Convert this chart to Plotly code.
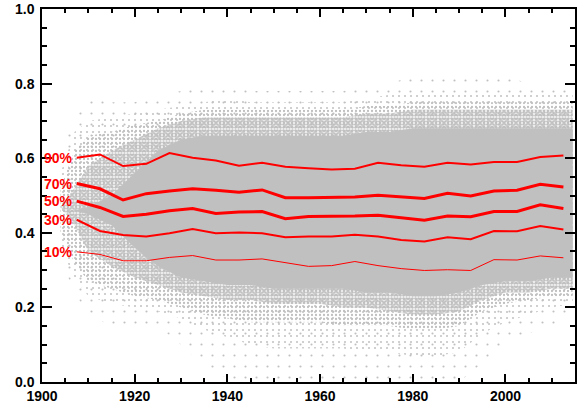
import plotly.graph_objects as go

# ---- percentile curves (5-year bins) ----
bin_years = [1907.5, 1912.5, 1917.5, 1922.5, 1927.5, 1932.5, 1937.5, 1942.5, 1947.5, 1952.5, 1957.5,
             1962.5, 1967.5, 1972.5, 1977.5, 1982.5, 1987.5, 1992.5, 1997.5, 2002.5, 2007.5, 2012.5]
p90 = [0.601, 0.610, 0.579, 0.585, 0.614, 0.601, 0.594, 0.580, 0.588, 0.577, 0.573,
       0.570, 0.572, 0.588, 0.581, 0.577, 0.588, 0.583, 0.590, 0.590, 0.603, 0.607]
p70 = [0.532, 0.518, 0.488, 0.505, 0.512, 0.518, 0.514, 0.509, 0.515, 0.494, 0.494,
       0.494, 0.496, 0.501, 0.497, 0.492, 0.506, 0.499, 0.512, 0.514, 0.530, 0.523]
p50 = [0.485, 0.468, 0.444, 0.450, 0.459, 0.465, 0.452, 0.456, 0.457, 0.438, 0.444,
       0.444, 0.445, 0.447, 0.441, 0.434, 0.445, 0.443, 0.457, 0.457, 0.475, 0.465]
p30 = [0.435, 0.405, 0.394, 0.390, 0.399, 0.410, 0.399, 0.401, 0.399, 0.388, 0.390,
       0.390, 0.395, 0.390, 0.381, 0.377, 0.388, 0.383, 0.405, 0.404, 0.418, 0.409]
p10 = [0.349, 0.342, 0.325, 0.325, 0.334, 0.339, 0.327, 0.327, 0.330, 0.320, 0.310,
       0.312, 0.323, 0.312, 0.304, 0.299, 0.301, 0.299, 0.328, 0.327, 0.338, 0.333]
pct_labels = ["90%", "70%", "50%", "30%", "10%"]

# ---- density envelopes of the grey point cloud ----
cloud_years = [1904, 1907, 1910, 1915, 1920, 1925, 1930, 1935, 1940, 1945, 1950, 1955,
               1960, 1965, 1970, 1975, 1980, 1985, 1990, 1995, 2000, 2005, 2010, 2014.5]
vsparse_hi = [0.60, 0.72, 0.76, 0.75, 0.75, 0.77, 0.78, 0.79, 0.80, 0.78, 0.78, 0.78,
              0.78, 0.78, 0.79, 0.80, 0.82, 0.82, 0.82, 0.83, 0.82, 0.80, 0.80, 0.80]
vsparse_lo = [0.33, 0.24, 0.18, 0.15, 0.15, 0.15, 0.10, 0.04, 0.01, 0.0, 0.0, 0.0,
              0.0, 0.0, 0.0, 0.0, 0.0, 0.0, 0.0, 0.05, 0.10, 0.13, 0.15, 0.18]
sparse_hi = [0.56, 0.67, 0.70, 0.71, 0.72, 0.73, 0.74, 0.75, 0.76, 0.75, 0.75, 0.75,
             0.75, 0.75, 0.76, 0.77, 0.78, 0.78, 0.78, 0.78, 0.78, 0.77, 0.77, 0.77]
sparse_lo = [0.36, 0.28, 0.23, 0.21, 0.20, 0.19, 0.17, 0.14, 0.12, 0.10, 0.09, 0.09,
             0.09, 0.09, 0.08, 0.08, 0.07, 0.07, 0.08, 0.13, 0.16, 0.18, 0.20, 0.21]
medium_hi = [0.52, 0.62, 0.66, 0.67, 0.69, 0.70, 0.72, 0.73, 0.73, 0.73, 0.73, 0.73,
             0.73, 0.73, 0.74, 0.74, 0.75, 0.75, 0.75, 0.75, 0.75, 0.75, 0.75, 0.75]
medium_lo = [0.40, 0.32, 0.27, 0.25, 0.23, 0.22, 0.20, 0.18, 0.17, 0.16, 0.16, 0.16,
             0.16, 0.15, 0.15, 0.15, 0.14, 0.14, 0.15, 0.19, 0.21, 0.22, 0.23, 0.23]
dense_hi = [0.47, 0.52, 0.58, 0.62, 0.65, 0.68, 0.70, 0.71, 0.71, 0.71, 0.71, 0.71,
            0.71, 0.71, 0.72, 0.72, 0.73, 0.73, 0.73, 0.73, 0.73, 0.73, 0.73, 0.73]
dense_lo = [0.47, 0.42, 0.35, 0.31, 0.28, 0.26, 0.24, 0.23, 0.22, 0.22, 0.21, 0.21,
            0.21, 0.20, 0.20, 0.19, 0.18, 0.18, 0.19, 0.22, 0.24, 0.24, 0.25, 0.25]
solid_hi = [0.46, 0.46, 0.47, 0.50, 0.56, 0.62, 0.65, 0.66, 0.66, 0.66, 0.66, 0.66,
            0.66, 0.66, 0.67, 0.67, 0.68, 0.68, 0.68, 0.68, 0.68, 0.68, 0.68, 0.68]
solid_lo = [0.46, 0.46, 0.45, 0.42, 0.36, 0.31, 0.28, 0.27, 0.26, 0.26, 0.25, 0.25,
            0.25, 0.25, 0.24, 0.24, 0.23, 0.23, 0.24, 0.26, 0.27, 0.27, 0.28, 0.28]

x_ticks = [1900, 1920, 1940, 1960, 1980, 2000]
y_ticks = [0.0, 0.2, 0.4, 0.6, 0.8, 1.0]

GREY = "#c0c0c0"
FONT = "Liberation Sans, Arial, Helvetica, sans-serif"

fig = go.Figure()


def band(lo, hi, pattern=None):
    xs = list(cloud_years) + list(cloud_years[::-1])
    ys = list(hi) + list(lo[::-1])
    kw = dict(x=xs, y=ys, mode="lines", fill="toself", line=dict(width=0),
              fillcolor=GREY, hoverinfo="skip", showlegend=False)
    if pattern is not None:
        size, solidity = pattern
        kw["fillpattern"] = dict(shape=".", size=size, solidity=solidity,
                                 fgcolor=GREY, bgcolor="rgba(0,0,0,0)", fgopacity=1)
    fig.add_trace(go.Scatter(**kw))


band(vsparse_lo, vsparse_hi, (11, 0.03))
band(sparse_lo, sparse_hi, (6, 0.09))
band(medium_lo, medium_hi, (4, 0.25))
band(dense_lo, dense_hi, (3, 0.6))
band(solid_lo, solid_hi)

series = [p90, p70, p50, p30, p10]
widths = [2, 3, 3, 2, 1]
for vals, w, lab in zip(series, widths, pct_labels):
    fig.add_trace(go.Scatter(x=bin_years, y=vals, mode="lines",
                             line=dict(color="#ff0000", width=w),
                             hoverinfo="skip", showlegend=False))
    fig.add_annotation(x=bin_years[0] - 0.4, y=vals[0], text=lab, showarrow=False,
                       xanchor="right", yanchor="middle", xref="x", yref="y",
                       font=dict(family=FONT, size=14, color="#ff0000", weight="bold"))

axis_common = dict(showline=True, linecolor="black", linewidth=1.5, mirror="allticks",
                   ticks="inside", tickcolor="black", tickwidth=1.5, showgrid=False,
                   zeroline=False, ticklabeloverflow="allow",
                   tickfont=dict(family=FONT, size=14, color="black", weight="bold"))

fig.update_xaxes(range=[1900, 2015], tickvals=x_ticks, ticklen=8,
                 minor=dict(dtick=5, tick0=1900, ticks="inside", ticklen=4,
                            tickcolor="black", tickwidth=1.5, showgrid=False),
                 **axis_common)
fig.update_yaxes(range=[0, 1], tickvals=y_ticks, tickformat=".1f", ticklen=10,
                 ticklabelstandoff=3,
                 minor=dict(dtick=0.05, tick0=0, ticks="inside", ticklen=5,
                            tickcolor="black", tickwidth=1.5, showgrid=False),
                 **axis_common)

fig.update_layout(width=585, height=407,
                  margin=dict(l=42, r=10, t=9, b=25, autoexpand=False),
                  plot_bgcolor="white", paper_bgcolor="white")

fig.write_html("out.html", config={"displayModeBar": False},
               post_script="document.body.style.margin='0';"
                           "document.body.style.overflow='hidden';")
